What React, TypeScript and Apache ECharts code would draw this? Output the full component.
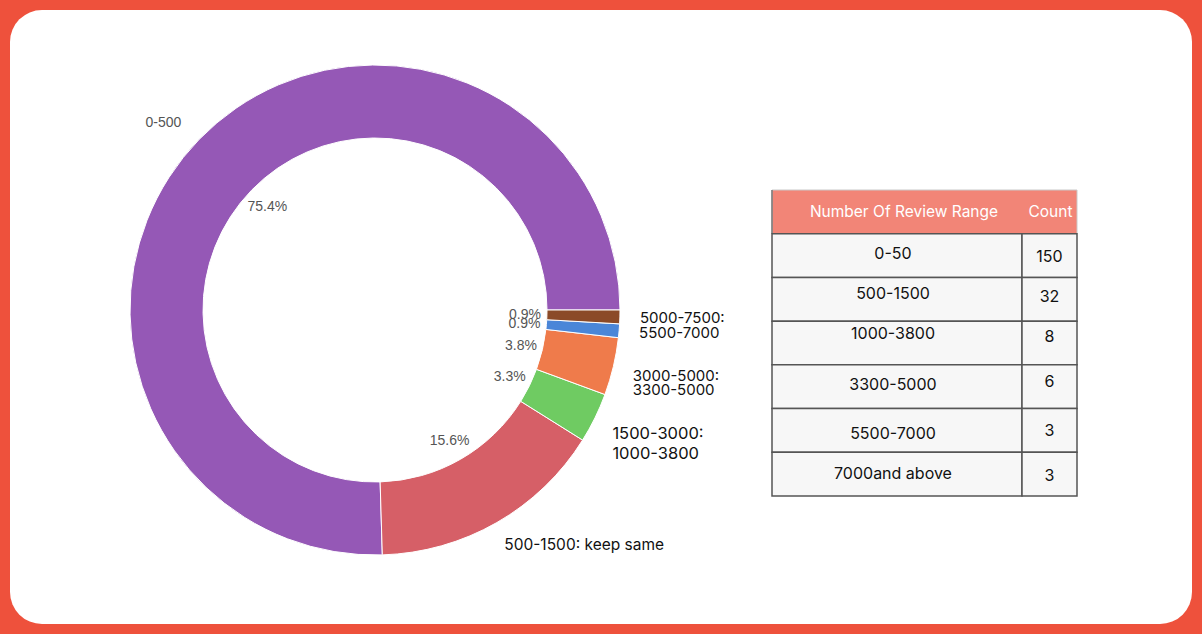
import React, { useEffect, useRef } from "react";
import * as echarts from "echarts";

// ---- Donut data ----
const sliceNames = ["0-500", "500-1500", "1500-3000", "3000-5000", "5000-7500", "7500+"];
const slicePercents = [75.4, 15.6, 3.3, 3.8, 0.9, 0.9];
const sliceLabelLines = [
  ["0-500"],
  ["500-1500: keep same"],
  ["1500-3000:", "1000-3800"],
  ["3000-5000:", "3300-5000"],
  ["5500-7000"],
  ["5000-7500:"],
];
const sliceColors = ["#9558B6", "#D65F67", "#6FCB62", "#EF7B4B", "#4A86D8", "#8B4A28"];

// ---- Table data ----
const tableHeader = ["Number Of Review Range", "Count"];
const tableRanges = ["0-50", "500-1500", "1000-3800", "3300-5000", "5500-7000", "7000and above"];
const tableCounts = [150, 32, 8, 6, 3, 3];

// ---- styling (not data) ----
const GRAY_FONT = "'Liberation Sans', Arial, sans-serif";
const BLACK_FONT = "Inter, 'Open Sans', sans-serif";
const COL1_FRAC = 250 / 305;
const labelFontSizes = [14, 15.5, 16.5, 15, 15, 15];
const labelLineHeights = [14, 16, 20, 14, 15, 15];
const labelDrop = [0, 0, 4, 3.5, 0, 0];
const rangeNudge = [-3, -6, -10, -3, 3, -1];
const countNudge = [0, -3, -7, -6, 0, 1];

export default function App() {
  const ref = useRef<HTMLDivElement>(null);

  useEffect(() => {
    if (!ref.current) return;
    const chart = echarts.init(ref.current, undefined, { renderer: "svg" });

    const donutData = slicePercents.map((v, i) => {
      const lines = sliceLabelLines[i];
      let label: any;
      if (i === 0) {
        label = {
          formatter: lines.join("\n"),
          color: "#555",
          fontFamily: GRAY_FONT,
          fontSize: labelFontSizes[i],
          distanceToLabelLine: 0,
        };
      } else if (lines.length === 1) {
        label = {
          formatter: lines[0],
          color: "#111",
          fontFamily: BLACK_FONT,
          fontSize: labelFontSizes[i],
          lineHeight: labelLineHeights[i],
          distanceToLabelLine: -5,
        };
      } else {
        const L = labelLineHeights[i];
        label = {
          formatter: "{s| }\n" + lines.map((t) => `{t|${t}}`).join("\n"),
          distanceToLabelLine: -5,
          rich: {
            s: { lineHeight: L + 2 * labelDrop[i], fontSize: 2 },
            t: {
              color: "#111",
              fontFamily: BLACK_FONT,
              fontSize: labelFontSizes[i],
              lineHeight: L,
            },
          },
        };
      }
      return {
        value: v,
        name: sliceNames[i],
        itemStyle: { color: sliceColors[i] },
        label,
      };
    });

    const pctLabel = {
      show: true,
      position: "inside",
      formatter: "{c}%",
      color: "#555",
      fontFamily: GRAY_FONT,
      fontSize: 14,
    };
    const lastIdx = slicePercents.length - 1;
    const pctDataA = slicePercents.map((v, i) => ({
      value: v,
      name: sliceNames[i],
      label: { show: i !== lastIdx },
    }));
    const pctDataB = slicePercents.map((v, i) => ({
      value: v,
      name: sliceNames[i],
      label: { show: i === lastIdx },
    }));
    const pctSeriesBase = {
      type: "pie",
      center: [375, 310],
      radius: [0, 294],
      startAngle: 0,
      clockwise: false,
      avoidLabelOverlap: false,
      minShowLabelAngle: 0,
      labelLayout: { hideOverlap: false },
      silent: true,
      itemStyle: { color: "rgba(0,0,0,0)", borderWidth: 0 },
      label: pctLabel,
      labelLine: { show: false },
      z: 3,
    };

    const rowCats = ["header", ...tableRanges];

    chart.setOption({
      animation: false,
      backgroundColor: "transparent",
      grid: { left: 772, top: 190, width: 305, height: 306, containLabel: false },
      xAxis: { type: "value", min: 0, max: 1, show: false },
      yAxis: { type: "category", data: rowCats, inverse: true, show: false },
      series: [
        {
          type: "pie",
          center: [375, 310],
          radius: [172, 245],
          startAngle: 0,
          clockwise: false,
          avoidLabelOverlap: false,
          labelLayout: { hideOverlap: false },
          silent: true,
          itemStyle: { borderColor: "#fff", borderWidth: 1 },
          label: { show: true, position: "outside", distanceToLabelLine: 0 },
          labelLine: { show: false, length: 25, length2: 0 },
          data: donutData,
          z: 2,
        },
        { ...pctSeriesBase, data: pctDataA },
        { ...pctSeriesBase, data: pctDataB },
        {
          type: "custom",
          coordinateSystem: "cartesian2d",
          silent: true,
          data: rowCats.map((_, i) => [0, i]),
          encode: { x: 0, y: 1 },
          renderItem: (params: any, api: any) => {
            const row = api.value(1);
            const p0 = api.coord([0, row]);
            const p1 = api.coord([1, row]);
            const h = api.size([0, 1])[1];
            const x0 = p0[0];
            const x1 = p1[0];
            const xs = x0 + (x1 - x0) * COL1_FRAC;
            const yTop = p0[1] - h / 2;
            const yc = p0[1];
            if (row === 0) {
              return {
                type: "group",
                children: [
                  {
                    type: "rect",
                    shape: { x: x0, y: yTop, width: x1 - x0, height: h },
                    style: { fill: "#F28577", stroke: "#c9c9c9", lineWidth: 1 },
                  },
                  {
                    type: "line",
                    shape: { x1: x0, y1: yTop, x2: x0, y2: yTop + h },
                    style: { stroke: "#777", lineWidth: 1.5 },
                  },
                  {
                    type: "text",
                    style: {
                      text: tableHeader[0],
                      x: (x0 + xs) / 2 + 7,
                      y: yc,
                      align: "center",
                      verticalAlign: "middle",
                      fill: "#fff",
                      font: `15.5px ${BLACK_FONT}`,
                    },
                  },
                  {
                    type: "text",
                    style: {
                      text: tableHeader[1],
                      x: (xs + x1) / 2 + 1,
                      y: yc,
                      align: "center",
                      verticalAlign: "middle",
                      fill: "#fff",
                      font: `15.5px ${BLACK_FONT}`,
                    },
                  },
                ],
              };
            }
            const idx = row - 1;
            return {
              type: "group",
              children: [
                {
                  type: "rect",
                  shape: { x: x0, y: yTop, width: xs - x0, height: h },
                  style: { fill: "#F7F7F7", stroke: "#555", lineWidth: 1.5 },
                },
                {
                  type: "rect",
                  shape: { x: xs, y: yTop, width: x1 - xs, height: h },
                  style: { fill: "#F7F7F7", stroke: "#555", lineWidth: 1.5 },
                },
                {
                  type: "text",
                  style: {
                    text: tableRanges[idx],
                    x: (x0 + xs) / 2 - 4,
                    y: yc + rangeNudge[idx],
                    align: "center",
                    verticalAlign: "middle",
                    fill: "#111",
                    font: `16px ${BLACK_FONT}`,
                  },
                },
                {
                  type: "text",
                  style: {
                    text: String(tableCounts[idx]),
                    x: (xs + x1) / 2,
                    y: yc + countNudge[idx],
                    align: "center",
                    verticalAlign: "middle",
                    fill: "#111",
                    font: `16px ${BLACK_FONT}`,
                  },
                },
              ],
            };
          },
          z: 5,
        },
      ],
    });

    return () => chart.dispose();
  }, []);

  return (
    <div
      style={{
        position: "fixed",
        left: 0,
        top: 0,
        width: 1202,
        height: 634,
        background: "#EE513C",
        overflow: "hidden",
      }}
    >
      <div
        style={{
          position: "absolute",
          left: 10,
          top: 10,
          width: 1182,
          height: 614,
          background: "#fff",
          borderRadius: 32,
        }}
      />
      <div ref={ref} style={{ position: "absolute", left: 0, top: 0, width: 1202, height: 634 }} />
    </div>
  );
}
